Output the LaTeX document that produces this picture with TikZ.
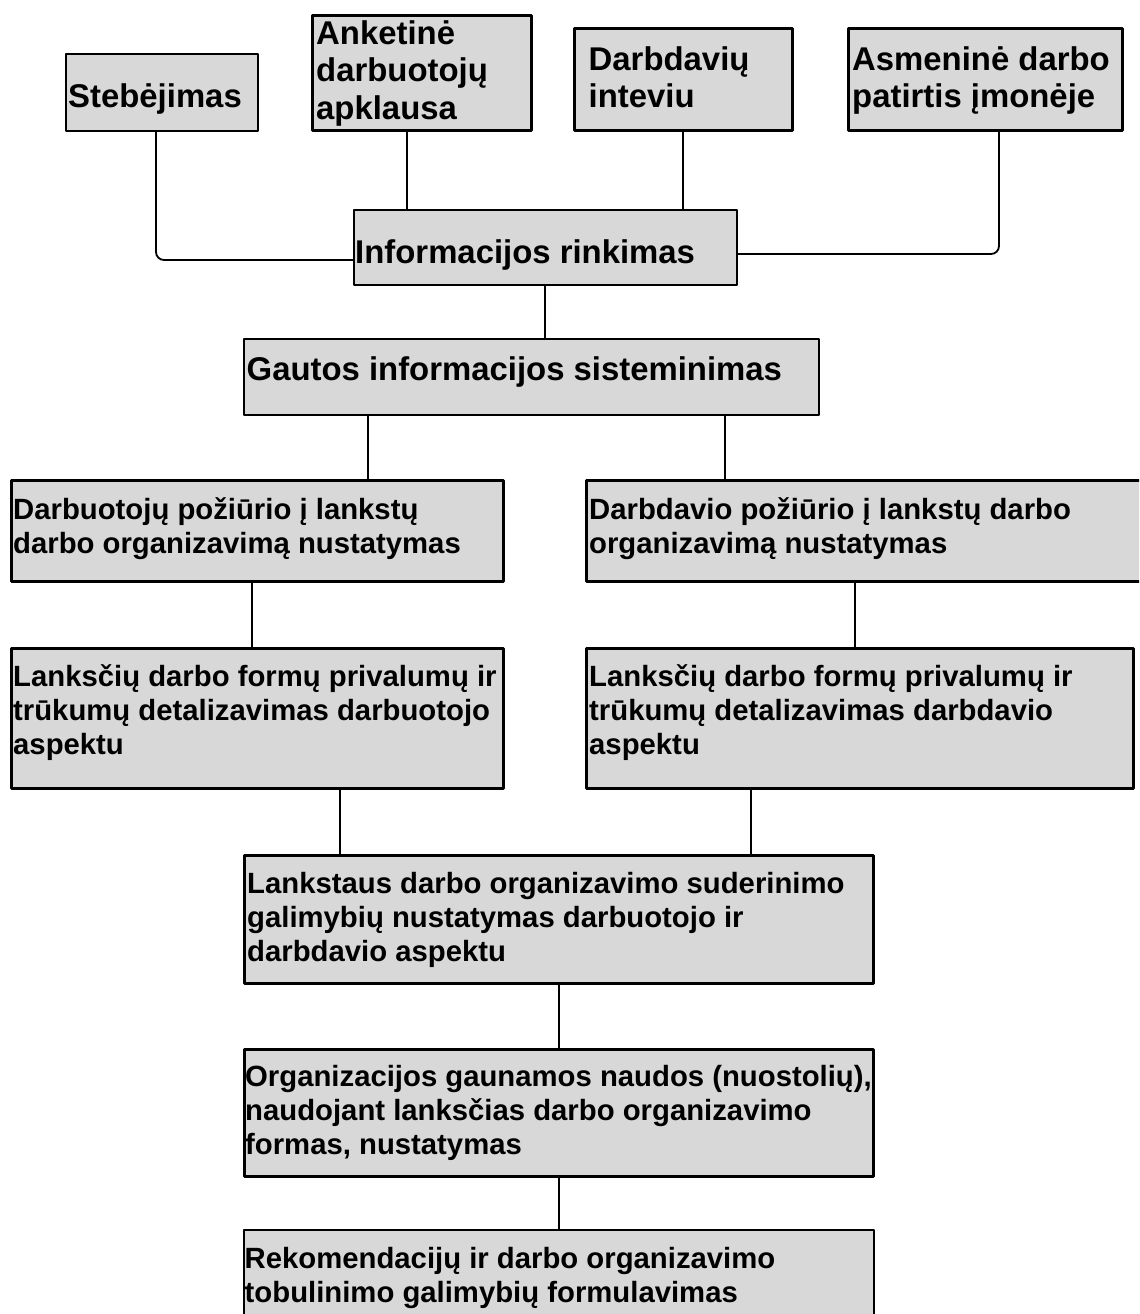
\documentclass[tikz,border=0pt]{standalone}
\usepackage{fontspec}
\setmainfont{Liberation Sans}
\usetikzlibrary{positioning}
\definecolor{boxgray}{HTML}{D8D8D8}
\tikzset{
  box/.style={draw=black,fill=boxgray,line width=2bp,inner sep=0pt,anchor=north west},
  midbox/.style={box,line width=2.8bp},
  heavybox/.style={box,line width=3.4bp},
  headtext/.style={inner sep=0pt,align=left,font=\fontsize{33}{38}\selectfont\bfseries},
  steptext/.style={inner sep=0pt,align=left,font=\fontsize{29.4}{34}\selectfont\bfseries},
  link/.style={draw=black,line width=1.8bp,rounded corners=8bp},
}
\begin{document}
\begin{tikzpicture}[x=1bp,y=-1bp,line join=bevel]
\useasboundingbox (0,0) rectangle (1139,1314);
\clip (0,0) rectangle (1139,1314);
%%
\node (node_steb) at (65,53) [box,minimum width=192bp,minimum height=77bp] {};
  \node (node_anket) at (311,14) [heavybox,minimum width=219bp,minimum height=115bp] {};
  \node (node_darbd) at (573,27) [midbox,minimum width=218bp,minimum height=102bp] {};
  \node (node_asmen) at (847,27) [midbox,minimum width=274bp,minimum height=102bp] {};
  \node (node_info) at (353,209) [box,minimum width=383bp,minimum height=75bp] {};
  \node (node_gaut) at (243,338) [box,minimum width=575bp,minimum height=76bp] {};
  \node (node_dpoz) at (10,479) [midbox,minimum width=492bp,minimum height=101bp] {};
  \node (node_epoz) at (585,479) [midbox,minimum width=557bp,minimum height=101bp] {};
  \node (node_dprv) at (10,647) [heavybox,minimum width=492bp,minimum height=140bp] {};
  \node (node_eprv) at (585,647) [heavybox,minimum width=547bp,minimum height=140bp] {};
  \node (node_suder) at (243,854) [heavybox,minimum width=629bp,minimum height=128bp] {};
  \node (node_nauda) at (243,1048) [midbox,minimum width=629bp,minimum height=127bp] {};
  \node (node_rekom) at (243,1229) [box,minimum width=630bp,minimum height=109bp] {};
%
\node (text_steb) [headtext,below right=27.4bp and 3bp of node_steb.north west] {\strut Stebėjimas};
  \node (text_anket) [headtext,below right=3.4bp and 5bp of node_anket.north west] {\strut Anketinė\\darbuotojų\\apklausa};
  \node (text_darbd) [headtext,below right=16.4bp and 15.5bp of node_darbd.north west] {\strut Darbdavių\\inteviu};
  \node (text_asmen) [headtext,below right=16.4bp and 5bp of node_asmen.north west] {\strut Asmeninė darbo\\patirtis įmonėje};
  \node (text_info) [headtext,below right=28bp and 2bp of node_info.north west] {\strut Informacijos rinkimas};
  \node (text_gaut) [headtext,below right=15.4bp and 3.5bp of node_gaut.north west] {\strut Gautos informacijos sisteminimas};
  \node (text_dpoz) [steptext,below right=16.8bp and 3bp of node_dpoz.north west] {\strut Darbuotojų požiūrio į lankstų\\darbo organizavimą nustatymas};
  \node (text_epoz) [steptext,below right=16.8bp and 4bp of node_epoz.north west] {\strut Darbdavio požiūrio į lankstų darbo\\organizavimą nustatymas};
  \node (text_dprv) [steptext,below right=15.8bp and 3bp of node_dprv.north west] {\strut Lanksčių darbo formų privalumų ir\\trūkumų detalizavimas darbuotojo\\aspektu};
  \node (text_eprv) [steptext,below right=15.8bp and 4bp of node_eprv.north west] {\strut Lanksčių darbo formų privalumų ir\\trūkumų detalizavimas darbdavio\\aspektu};
  \node (text_suder) [steptext,below right=15.8bp and 4bp of node_suder.north west] {\strut Lankstaus darbo organizavimo suderinimo\\galimybių nustatymas darbuotojo ir\\darbdavio aspektu};
  \node (text_nauda) [steptext,below right=14.5bp and 2bp of node_nauda.north west] {\strut Organizacijos gaunamos naudos (nuostolių),\\naudojant lanksčias darbo organizavimo\\formas, nustatymas};
  \node (text_rekom) [steptext,below right=15.5bp and 1.5bp of node_rekom.north west] {\strut Rekomendacijų ir darbo organizavimo\\tobulinimo galimybių formulavimas};
%
\draw [link] (node_steb.south -| 156,0) |- (node_info.west |- 0,260);
  \draw [link] (node_anket.south -| 407,0) -- (node_info.north -| 407,0);
  \draw [link] (node_darbd.south -| 683,0) -- (node_info.north -| 683,0);
  \draw [link] (node_asmen.south -| 999,0) |- (node_info.east |- 0,254);
  \draw [link] (node_info.south -| 545,0) -- (node_gaut.north -| 545,0);
  \draw [link] (node_gaut.south -| 368,0) -- (node_dpoz.north -| 368,0);
  \draw [link] (node_gaut.south -| 725,0) -- (node_epoz.north -| 725,0);
  \draw [link] (node_dpoz.south -| 252,0) -- (node_dprv.north -| 252,0);
  \draw [link] (node_epoz.south -| 855,0) -- (node_eprv.north -| 855,0);
  \draw [link] (node_dprv.south -| 340,0) -- (node_suder.north -| 340,0);
  \draw [link] (node_eprv.south -| 751,0) -- (node_suder.north -| 751,0);
  \draw [link] (node_suder.south -| 559,0) -- (node_nauda.north -| 559,0);
  \draw [link] (node_nauda.south -| 559,0) -- (node_rekom.north -| 559,0);
%
\end{tikzpicture}
\end{document}
